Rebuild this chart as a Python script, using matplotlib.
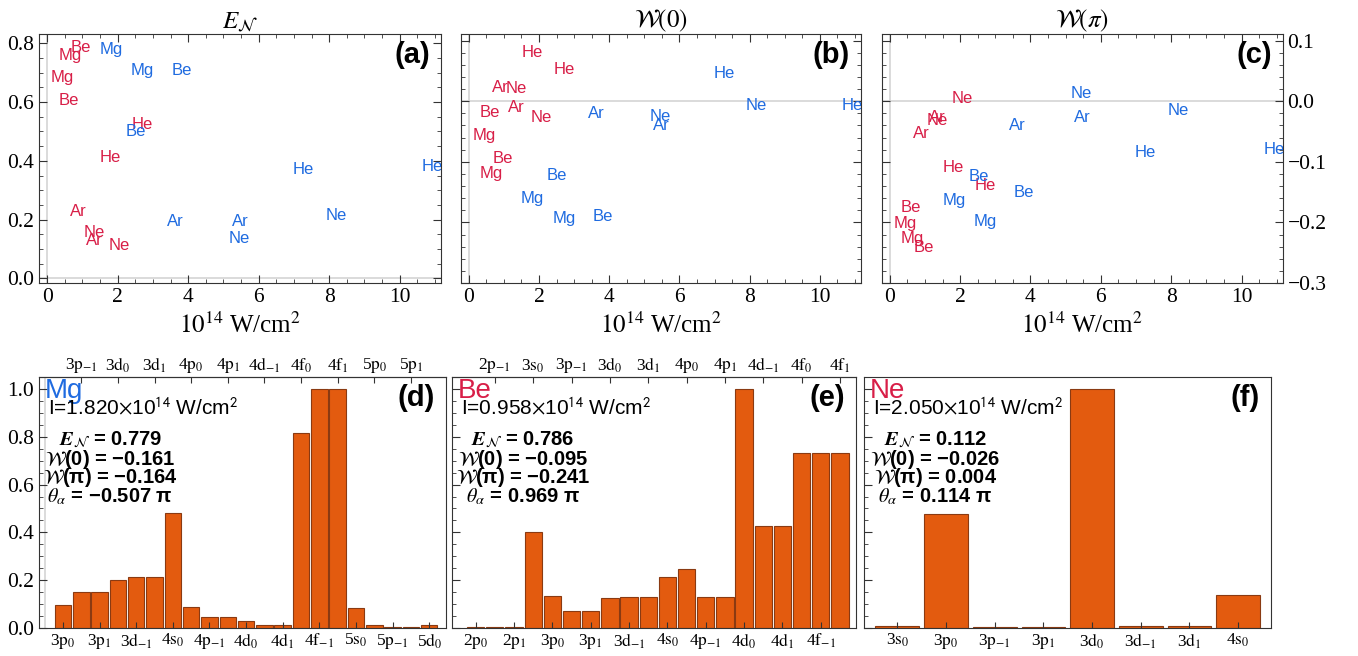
import numpy as np
import matplotlib
matplotlib.use('Agg')
import matplotlib.pyplot as plt
from matplotlib.ticker import MultipleLocator

# scatter of ionization results: red / blue series, labelled by element
names_red = ['Mg', 'Be', 'Mg', 'Ar', 'Be', 'Ne', 'Ar', 'He', 'Ne', 'He']
I_red = [0.43, 0.61, 0.65, 0.89, 0.958, 1.34, 1.35, 1.80, 2.05, 2.71]
E_red = [0.683, 0.607, 0.760, 0.229, 0.786, 0.155, 0.130, 0.410, 0.112, 0.524]
W0_red = [-0.057, -0.019, -0.120, 0.023, -0.095, 0.021, -0.010, 0.080, -0.026, 0.052]
Wpi_red = [-0.201, -0.175, -0.227, -0.053, -0.241, -0.032, -0.027, -0.110, 0.004, -0.139]

names_blue = ['Mg', 'Be', 'Mg', 'Ar', 'Be', 'Ne', 'Ar', 'He', 'Ne', 'He']
I_blue = [1.82, 2.52, 2.71, 3.63, 3.82, 5.45, 5.47, 7.27, 8.19, 10.92]
E_blue = [0.779, 0.501, 0.707, 0.195, 0.706, 0.134, 0.193, 0.371, 0.215, 0.380]
W0_blue = [-0.161, -0.122, -0.193, -0.021, -0.191, -0.025, -0.040, 0.046, -0.007, -0.007]
Wpi_blue = [-0.164, -0.124, -0.198, -0.040, -0.151, 0.013, -0.026, -0.085, -0.015, -0.080]

# bar charts
mg_orb = ['3p', '3p', '3p', '3d', '3d', '3d', '4s', '4p', '4p', '4p', '4d', '4d', '4d',
          '4f', '4f', '4f', '5s', '5p', '5p', '5p', '5d']
mg_m = ['0', '-1', '1', '0', '-1', '1', '0', '0', '-1', '1', '0', '-1', '1',
        '0', '-1', '1', '0', '0', '-1', '1', '0']
mg_vals = [0.094, 0.148, 0.148, 0.200, 0.211, 0.211, 0.483, 0.086, 0.044, 0.044, 0.030,
           0.012, 0.012, 0.816, 1.0, 1.0, 0.081, 0.013, 0.003, 0.002, 0.011]

be_orb = ['2p', '2p', '2p', '3s', '3p', '3p', '3p', '3d', '3d', '3d', '4s', '4p', '4p', '4p',
          '4d', '4d', '4d', '4f', '4f', '4f']
be_m = ['0', '-1', '1', '0', '0', '-1', '1', '0', '-1', '1', '0', '0', '-1', '1',
        '0', '-1', '1', '0', '-1', '1']
be_vals = [0.002, 0.002, 0.002, 0.400, 0.134, 0.071, 0.071, 0.123, 0.127, 0.127, 0.214,
           0.248, 0.127, 0.127, 1.0, 0.427, 0.427, 0.734, 0.734, 0.734]

ne_orb = ['3s', '3p', '3p', '3p', '3d', '3d', '3d', '4s']
ne_m = ['0', '0', '-1', '1', '0', '-1', '1', '0']
ne_vals = [0.008, 0.476, 0.002, 0.002, 1.0, 0.007, 0.007, 0.136]

mg_info = ['1.820', '0.779', '−0.161', '−0.164', '−0.507']
be_info = ['0.958', '0.786', '−0.095', '−0.241', '0.969']
ne_info = ['2.050', '0.112', '−0.026', '0.004', '0.114']

red = '#d81e47'
blue = '#1f6be0'
orange = '#e35b0f'
edge = '#8a3a12'
frame = '#333333'

plt.rcParams['font.family'] = 'Liberation Serif'
plt.rcParams['mathtext.fontset'] = 'stix'

W, H = 1358, 656


def box(x0, y0, x1, y1):
    return [x0 / W, 1 - y1 / H, (x1 - x0) / W, (y1 - y0) / H]


fig = plt.figure(figsize=(13.58, 6.56), dpi=100)

ax_a = fig.add_axes(box(39, 34, 441, 283))
ax_b = fig.add_axes(box(460.7, 34, 861, 283))
ax_c = fig.add_axes(box(881.7, 34, 1282.7, 283))

top_axes = [ax_a, ax_b, ax_c]
red_y = [E_red, W0_red, Wpi_red]
blue_y = [E_blue, W0_blue, Wpi_blue]
titles = [r'$E_{\mathcal{N}}$', r'$\mathcal{W}(0)$', r'$\mathcal{W}(\pi)$']
letters = ['(a)', '(b)', '(c)']

for k, ax in enumerate(top_axes):
    for x, y, s in zip(I_red, red_y[k], names_red):
        ax.text(x, y, s, color=red, fontsize=12, family='Liberation Sans',
                ha='center', va='center', clip_on=True)
    for x, y, s in zip(I_blue, blue_y[k], names_blue):
        ax.text(x, y, s, color=blue, fontsize=12, family='Liberation Sans',
                ha='center', va='center', clip_on=True)
    ax.set_xlim(-0.23, 11.17)
    ax.axvline(0, color='#d4d4d4', lw=1.2, zorder=0)
    ax.axhline(0, color='#d4d4d4', lw=1.2, zorder=0)
    ax.xaxis.set_major_locator(MultipleLocator(2))
    ax.xaxis.set_minor_locator(MultipleLocator(0.5))
    ax.tick_params(which='both', direction='in', top=True, right=True, left=True,
                   bottom=True, color=frame)
    ax.tick_params(which='major', length=6, width=0.8, labelsize=15.5)
    ax.tick_params(which='minor', length=3, width=0.6)
    ax.set_title(titles[k], fontsize=18, pad=4)
    ax.set_xlabel(r'$10^{14}$ W/cm$^{2}$', fontsize=18, labelpad=4)
    ax.text(0.973, 0.916, letters[k], transform=ax.transAxes, ha='right', va='center',
            fontsize=21, fontweight='bold', family='Liberation Sans')
    for sp in ax.spines.values():
        sp.set_color(frame)

ax_a.set_ylim(-0.016, 0.832)
ax_a.yaxis.set_major_locator(MultipleLocator(0.2))
ax_a.yaxis.set_minor_locator(MultipleLocator(0.05))

for ax in [ax_b, ax_c]:
    ax.set_ylim(-0.300, 0.111)
    ax.yaxis.set_major_locator(MultipleLocator(0.1))
    ax.yaxis.set_minor_locator(MultipleLocator(0.02))
ax_b.tick_params(labelleft=False)
ax_c.tick_params(labelleft=False, labelright=True)

# bottom row
ax_d = fig.add_axes(box(39, 377.3, 445.7, 627.7))
ax_e = fig.add_axes(box(452.3, 377.3, 855.7, 627.7))
ax_f = fig.add_axes(box(864.3, 377.3, 1270.7, 627.7))

bars = [(ax_d, mg_orb, mg_m, mg_vals, 'Mg', blue, mg_info, '(d)', (-0.31, 21.9)),
        (ax_e, be_orb, be_m, be_vals, 'Be', red, be_info, '(e)', (-0.22, 20.82)),
        (ax_f, ne_orb, ne_m, ne_vals, 'Ne', red, ne_info, '(f)', (0.32, 8.67))]

for ax, orb, m, vals, name, col, info, letter, xl in bars:
    pos = np.arange(1, len(vals) + 1)
    labels = [o[0] + r'$\mathrm{' + o[1] + '}_{' + mm + '}$' for o, mm in zip(orb, m)]
    ax.bar(pos, vals, width=0.9, color=orange, edgecolor=edge, linewidth=0.8)
    ax.set_xlim(*xl)
    ax.set_ylim(0, 1.05)
    ax.yaxis.set_major_locator(MultipleLocator(0.2))
    ax.yaxis.set_minor_locator(MultipleLocator(0.05))
    ax.tick_params(axis='y', which='both', direction='in', left=True, right=False, color=frame)
    ax.tick_params(axis='y', which='major', length=6, width=0.8, labelsize=15.5)
    ax.tick_params(axis='y', which='minor', length=3, width=0.6)
    if len(vals) > 10:
        ax.set_xticks(pos[::2], labels[::2])
        sec = ax.secondary_xaxis('top')
        sec.set_xticks(pos[1::2], labels[1::2])
        sec.tick_params(direction='in', length=4, width=0.8, labelsize=12.5, pad=2, color=frame)
        sec.spines['top'].set_color(frame)
    else:
        ax.set_xticks(pos, labels)
    ax.tick_params(axis='x', which='both', direction='in', length=4, width=0.8,
                   labelsize=12.5, pad=3, color=frame)
    for sp in ax.spines.values():
        sp.set_color(frame)

    tr = ax.transAxes
    ax.text(0.013, 0.918, name, transform=tr, color=col, fontsize=20,
            family='Liberation Sans', ha='left', va='baseline')
    ax.text(0.021, 0.852, 'I=' + info[0] + r'$\times$10$^{14}$ W/cm$^{2}$', transform=tr,
            fontsize=15, family='Liberation Sans', math_fontfamily='stixsans',
            ha='left', va='baseline')
    lines = [r'$\mathbfit{E}_{\mathcal{N}}$ = ' + info[1],
             r'$\mathcal{W}$(0) = ' + info[2],
             r'$\mathcal{W}$(π) = ' + info[3],
             r'$\boldsymbol{\theta_\alpha}$ = ' + info[4] + ' π']
    for j, s in enumerate(lines):
        ax.text(0.175, [0.75, 0.672, 0.601, 0.525][j], s, transform=tr, fontsize=14.5,
                fontweight='bold', family='Liberation Sans', ha='center', va='center')
    ax.text(0.974, 0.916, letter, transform=tr, ha='right', va='center',
            fontsize=21, fontweight='bold', family='Liberation Sans')

ax_d.axvline(0, color='#d4d4d4', lw=1.2, zorder=0)
ax_e.tick_params(labelleft=False)
ax_f.tick_params(labelleft=False)

fig.savefig('out.png', dpi=100)
